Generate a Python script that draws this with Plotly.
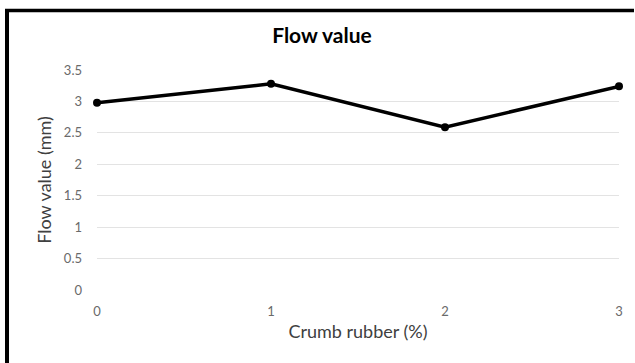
import plotly.graph_objects as go

crumb_rubber = [0, 1, 2, 3]
flow_value = [2.98, 3.28, 2.59, 3.24]
y_ticks = [0, 0.5, 1, 1.5, 2, 2.5, 3, 3.5]
y_ticklabels = ["0", "0.5", "1", "1.5", "2", "2.5", "3", "3.5"]

font_family = "Lato, Open Sans, sans-serif"

L, R, T, B = 97, 619, 70, 290
W, H = 635, 363


def px_x(p):
    return (p - L) / (R - L)


def px_y(p):
    return (B - p) / (B - T)


fig = go.Figure()
fig.add_trace(go.Scatter(
    x=crumb_rubber, y=flow_value, mode="lines+markers",
    line=dict(color="black", width=3.5),
    marker=dict(color="black", size=8),
    cliponaxis=False, showlegend=False,
))

fig.update_layout(
    width=W, height=H,
    margin=dict(l=L, r=W - R, t=T, b=H - B),
    paper_bgcolor="white", plot_bgcolor="white",
    font=dict(family=font_family, color="#595959"),
    title=dict(text="<b>Flow value</b>", x=322 / W, xanchor="center",
               y=1 - 36 / H, yanchor="middle",
               font=dict(size=21, color="black", family=font_family)),
    xaxis=dict(range=[0, 3], tickvals=crumb_rubber, ticktext=[str(v) for v in crumb_rubber],
               showgrid=False, zeroline=False, showline=False,
               ticks="", ticklabelstandoff=12,
               tickfont=dict(size=13, color="#6a6a6a"),
               title=dict(text="Crumb rubber (%)", standoff=7,
                          font=dict(size=18, color="#404040"))),
    yaxis=dict(range=[0, 3.5], tickvals=y_ticks, ticktext=y_ticklabels,
               showgrid=True, gridcolor="#e3e3e3", gridwidth=1,
               zeroline=False, showline=False,
               ticks="", ticklabelstandoff=14,
               tickfont=dict(size=13, color="#6a6a6a"),
               title=dict(text="Flow value (mm)", standoff=7,
                          font=dict(size=18, color="#404040"))),
    shapes=[
        dict(type="line", xref="paper", yref="paper",
             x0=px_x(7), x1=px_x(7), y0=px_y(10), y1=px_y(H),
             line=dict(color="black", width=4)),
        dict(type="line", xref="paper", yref="paper",
             x0=px_x(5), x1=px_x(W - 1), y0=px_y(10.5), y1=px_y(10.5),
             line=dict(color="black", width=3.5)),
    ],
)

fig.write_html(
    "out.html",
    config={"responsive": False, "displayModeBar": False},
    post_script="document.documentElement.style.overflow='hidden';"
                "document.body.style.overflow='hidden';"
                "document.body.style.margin='0';",
)
